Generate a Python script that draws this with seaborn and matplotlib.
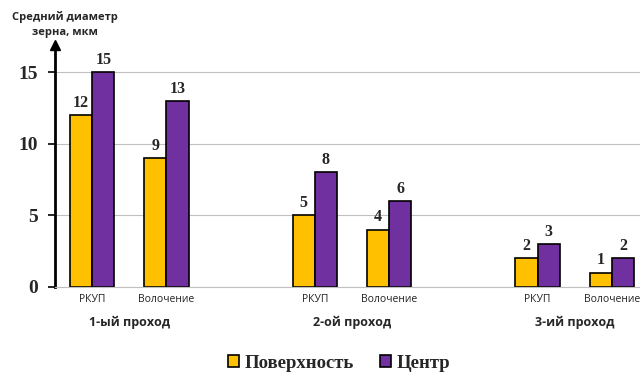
import matplotlib
matplotlib.use("Agg")
import matplotlib.pyplot as plt
import seaborn as sns
import pandas as pd
from matplotlib.transforms import blended_transform_factory

# ---- data ----
passes = ["1-ый проход", "2-ой проход", "3-ий проход"]
methods = ["РКУП", "Волочение"]
series = ["Поверхность", "Центр"]
surface = [12, 9, 5, 4, 2, 1]
center = [15, 13, 8, 6, 3, 2]
y_ticks = [0, 5, 10, 15]
y_title = "Средний диаметр\nзерна, мкм"
colors = ["#FFC000", "#7030A0"]

cats = [f"{p}|{m}" for p in passes for m in methods]
rows = []
for c, s, v in zip(cats, surface, center):
    rows.append({"cat": c, "series": series[0], "val": s})
    rows.append({"cat": c, "series": series[1], "val": v})
df = pd.DataFrame(rows)

# order with spacer slots between passes
order = []
for i, p in enumerate(passes):
    if i > 0:
        order.append(f"gap{i}")
    for m in methods:
        order.append(f"{p}|{m}")

sns.set_style("white")
fig = plt.figure(figsize=(6.4, 3.74), dpi=100)
ax = fig.add_axes([0.086, 0.233, 0.914, 0.647])

sns.barplot(data=df, x="cat", y="val", hue="series", order=order,
            hue_order=series, palette=colors, width=0.6,
            edgecolor="black", linewidth=1.2, saturation=1,
            errorbar=None, legend=True, ax=ax)

ax.set_ylim(0, 16.9)
ax.set_xlim(-0.5, 7.38)
ax.set_yticks(y_ticks)
ax.set_yticklabels([str(t) for t in y_ticks], fontsize=14,
                   fontweight="bold", family="Liberation Serif")
ax.yaxis.grid(True, color="#C0C0C0", linewidth=0.8)
ax.set_axisbelow(True)
ax.tick_params(axis="y", length=5, width=1.2, color="black", left=True, pad=7)
ax.tick_params(axis="x", length=0, pad=5)

for sp in ["top", "right"]:
    ax.spines[sp].set_visible(False)
ax.spines["left"].set_color("black")
ax.spines["left"].set_linewidth(2)
ax.spines["bottom"].set_color("#C0C0C0")
ax.spines["bottom"].set_linewidth(0.8)
# arrow at top of y-axis
ax.plot(0, 1.0, marker="^", markersize=7, color="black",
        transform=ax.transAxes, clip_on=False)

# x tick labels
tick_pos = [order.index(c) for c in cats]
ax.set_xticks(tick_pos)
ax.set_xticklabels([c.split("|")[1] for c in cats], fontsize=7.5,
                   family="Open Sans", color="#222222")
ax.set_xlabel("")
ax.set_ylabel("")

# pass labels
trans = blended_transform_factory(ax.transData, ax.transAxes)
for i, p in enumerate(passes):
    xs = [order.index(f"{p}|{m}") for m in methods]
    ax.text(sum(xs) / len(xs), -0.145, p, transform=trans, ha="center",
            va="center", fontsize=9, fontweight="bold", family="Open Sans")

# bar labels
for cont in ax.containers:
    ax.bar_label(cont, fmt="%g", padding=3, fontsize=11.5, fontweight="bold",
                 family="Liberation Serif")

# y title
fig.text(0.102, 0.934, y_title, ha="center", va="center", fontsize=8,
         fontweight="bold", family="Open Sans", linespacing=1.45)

# legend
handles, labels = ax.get_legend_handles_labels()
ax.get_legend().remove()
leg = fig.legend(handles, labels, loc="center", bbox_to_anchor=(0.53, 0.028),
                 ncol=2, frameon=False, handlelength=0.6, handleheight=0.6,
                 handletextpad=0.3, columnspacing=1.4,
                 prop={"family": "Liberation Serif", "weight": "bold", "size": 13.5})

fig.savefig("out.png", dpi=100)
